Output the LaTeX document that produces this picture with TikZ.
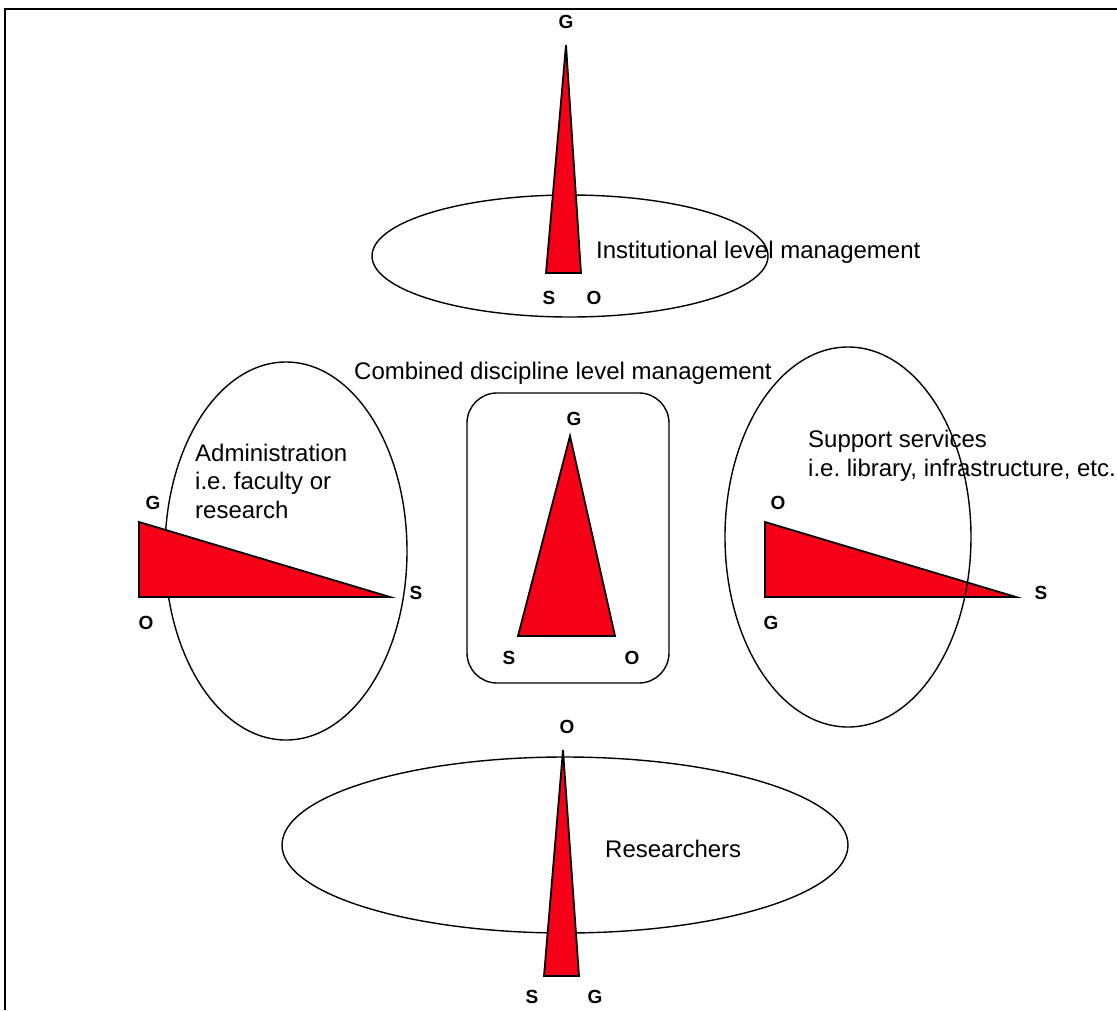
\documentclass[tikz,border=0pt]{standalone}
\usepackage{fontspec}
\setmainfont{Liberation Sans}
\frenchspacing
\definecolor{wedge}{RGB}{246,0,24}
\begin{document}
\begin{tikzpicture}[x=1pt,y=-1pt,
  outline/.style={draw=black, line width=1.4pt},
  wedgeshape/.style={fill=wedge, draw=black, line width=1.8pt, line join=miter},
  txt/.style={font=\fontsize{24}{28.5}\selectfont, inner sep=0pt, align=left},
  lbl/.style={font=\fontsize{19}{22}\selectfont\bfseries, inner sep=0pt}]
\useasboundingbox (0,0) rectangle (1117,1010);

% frame
\draw[line width=1.4pt] (1117,9) -- (5,9) -- (5,1010);

% ---- institutional level (top) ----
\draw[outline] (570,256) ellipse [x radius=198pt, y radius=61pt];
\coordinate (topApex) at (566,45);
\coordinate (topL) at (546,273);
\coordinate (topR) at (581,273);
\draw[wedgeshape] (topApex) -- (topR) -- (topL) -- cycle;
\node[lbl, anchor=base] (topG) at (566,28) {G};
\node[lbl, anchor=base] (topS) at (549,304) {S};
\node[lbl, anchor=base] (topO) at (594,304) {O};
\node[txt, anchor=base west] (inst) at (596,258) {Institutional level management};

% ---- combined discipline level (centre) ----
\node[txt, anchor=base west] (comb) at (354,379) {Combined discipline level management};
\draw[outline, rounded corners=30pt] (467,393) rectangle (669,683);
\coordinate (midApex) at (570,436);
\coordinate (midL) at (518,636);
\coordinate (midR) at (615,636);
\draw[wedgeshape] (midApex) -- (midR) -- (midL) -- cycle;
\node[lbl, anchor=base] (midG) at (574,425) {G};
\node[lbl, anchor=base] (midS) at (509,664) {S};
\node[lbl, anchor=base] (midO) at (632,664) {O};

% ---- administration (left) ----
\draw[outline] (286,551) ellipse [x radius=121pt, y radius=189pt];
\coordinate (admTop) at (139,522);
\coordinate (admBot) at (139,597);
\coordinate (admTip) at (390,597);
\draw[wedgeshape] (admTop) -- (admTip) -- (admBot) -- cycle;
\node[lbl, anchor=base] (admG) at (153,509) {G};
\node[lbl, anchor=base] (admO) at (146,629) {O};
\node[lbl, anchor=base] (admS) at (416,599) {S};
\node[txt, anchor=base west] (adm) at (195,518) {Administration\\i.e. faculty or\\research};

% ---- support services (right) ----
\coordinate (supTop) at (765,522);
\coordinate (supBot) at (765,597);
\coordinate (supTip) at (1016,597);
\draw[wedgeshape] (supTop) -- (supTip) -- (supBot) -- cycle;
\draw[outline] (848,537) ellipse [x radius=123pt, y radius=190pt];
\node[lbl, anchor=base] (supO) at (778,509) {O};
\node[lbl, anchor=base] (supG) at (771,629) {G};
\node[lbl, anchor=base] (supS) at (1041,599) {S};
\node[txt, anchor=base west] (sup) at (808,476) {Support services\\i.e. library, infrastructure, etc.};

% ---- researchers (bottom) ----
\draw[outline] (565,845) ellipse [x radius=283pt, y radius=88pt];
\coordinate (botApex) at (563,750);
\coordinate (botL) at (544,976);
\coordinate (botR) at (579,976);
\draw[wedgeshape] (botApex) -- (botR) -- (botL) -- cycle;
\node[lbl, anchor=base] (botO) at (567,733) {O};
\node[lbl, anchor=base] (botS) at (532,1003) {S};
\node[lbl, anchor=base] (botG) at (595,1003) {G};
\node[txt, anchor=base west] (res) at (605,857) {Researchers};
\end{tikzpicture}
\end{document}
